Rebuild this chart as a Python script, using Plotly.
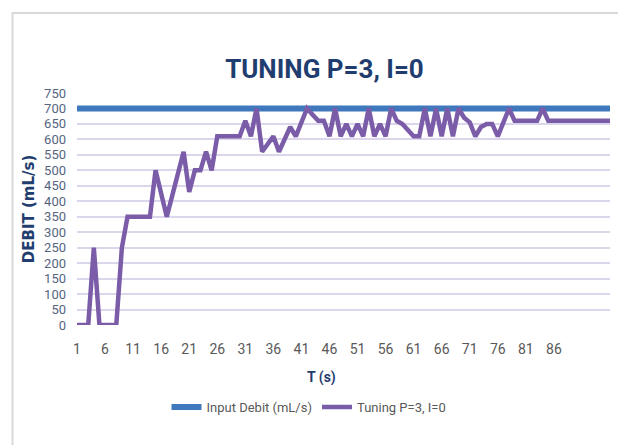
import plotly.graph_objects as go

# Time axis (s) and measured flow for the P=3, I=0 tuning run
t_s = list(range(1, 97))
input_debit = [700] * 96
tuning_p3_i0 = [
    0, 0, 0, 250, 0, 0, 0, 0, 250, 350,
    350, 350, 350, 350, 500, 425, 350, 420, 490, 560,
    430, 500, 500, 560, 500, 610, 610, 610, 610, 610,
    660, 610, 700, 560, 585, 610, 560, 600, 640, 610,
    655, 700, 680, 660, 660, 610, 700, 610, 650, 610,
    650, 610, 700, 610, 650, 610, 700, 660, 650, 630,
    610, 610, 700, 610, 700, 610, 700, 610, 700, 670,
    655, 610, 640, 650, 650, 610, 655, 700, 660, 660,
    660, 660, 660, 700, 660, 660, 660, 660, 660, 660,
    660, 660, 660, 660, 660, 660,
]
x_tick_labels = [1, 6, 11, 16, 21, 26, 31, 36, 41, 46, 51, 56, 61, 66, 71, 76, 81, 86]
y_tick_values = [0, 50, 100, 150, 200, 250, 300, 350, 400, 450, 500, 550, 600, 650, 700, 750]

FONT = "Roboto"

fig = go.Figure()
fig.add_trace(go.Scatter(
    x=t_s, y=input_debit, mode="lines", name="Input Debit (mL/s)",
    line=dict(color="#3f78bd", width=6),
))
fig.add_trace(go.Scatter(
    x=t_s, y=tuning_p3_i0, mode="lines", name="Tuning P=3, I=0",
    line=dict(color="#7a5ca8", width=4.5),
))

fig.update_layout(
    width=618, height=445,
    margin=dict(l=77, r=8, t=93, b=120),
    paper_bgcolor="white", plot_bgcolor="white",
    title=dict(
        text="<b>TUNING P=3, I=0</b>",
        font=dict(family=FONT, size=26, color="#1f3d6e"),
        x=0.525, xanchor="center", y=0.845, yanchor="middle",
    ),
    xaxis=dict(
        range=[1, 96], tickmode="array", tickvals=x_tick_labels,
        ticktext=[str(v) for v in x_tick_labels],
        showgrid=False, zeroline=False, showline=False, ticks="",
        tickfont=dict(family=FONT, size=14, color="#595959"),
        ticklabelstandoff=14,
    ),
    yaxis=dict(
        range=[0, 750], tickmode="array", tickvals=y_tick_values,
        showgrid=True, gridcolor="#dcd6ec", gridwidth=2,
        zeroline=False, showline=False, ticks="",
        tickfont=dict(family=FONT, size=13, color="#56657f"),
        ticklabelstandoff=10,
        title=dict(
            text="<b>DEBIT (mL/s)</b>",
            font=dict(family="DejaVu Sans", size=15, color="#1f3d6e"),
            standoff=5,
        ),
    ),
    legend=dict(
        orientation="h", xref="container", x=0.5, xanchor="center",
        yref="container", y=0.085, yanchor="middle",
        font=dict(family=FONT, size=13, color="#595959"),
        itemwidth=30, tracegroupgap=0,
    ),
    showlegend=True,
)

# Axis title for time, placed between the legend entries
fig.add_annotation(
    text="<b>T (s)</b>", xref="paper", yref="paper",
    x=0.458, y=-0.27, showarrow=False,
    font=dict(family=FONT, size=14, color="#1f3d6e"),
)

# Chart frame
fig.add_shape(
    type="rect", xref="paper", yref="paper",
    x0=-0.121, y0=-0.7, x1=1.2, y1=1.345,
    line=dict(color="#d9d9d9", width=2), fillcolor="rgba(0,0,0,0)", layer="below",
)

fig.write_html("out.html")
